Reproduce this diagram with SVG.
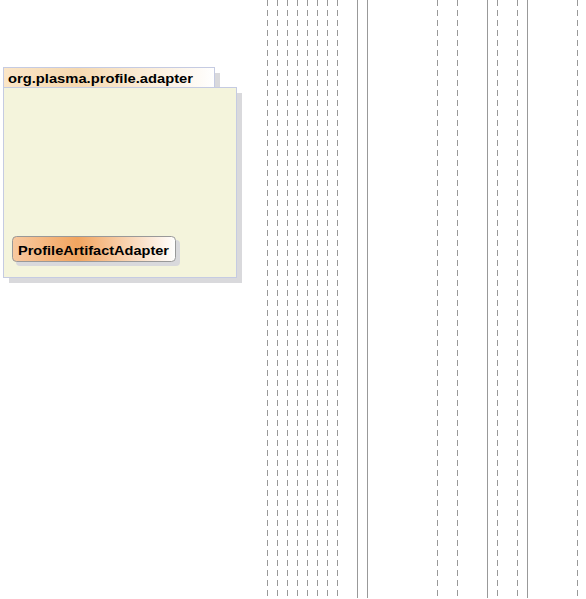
<svg xmlns="http://www.w3.org/2000/svg" width="586" height="599" viewBox="0 0 586 599">
<style>
.sh{fill:#d9d9dc;}
.pkg{stroke:#c5cbe2;stroke-width:1;}
.ln{stroke:#999999;stroke-width:1;fill:none;}
.d{stroke-dasharray:6,4;}
.t{font-family:"Liberation Sans",Arial,sans-serif;font-weight:bold;font-size:13px;fill:#000;}
</style>
<defs>
<linearGradient id="tabg" x1="0" y1="0" x2="1" y2="0">
<stop offset="0" stop-color="#fbe6c8"/>
<stop offset="0.35" stop-color="#f6d9b0"/>
<stop offset="1" stop-color="#ffffff"/>
</linearGradient>
<linearGradient id="clsg" x1="0" y1="0" x2="1" y2="0">
<stop offset="0" stop-color="#f8c9a0"/>
<stop offset="0.4" stop-color="#f2a560"/>
<stop offset="1" stop-color="#ffffff"/>
</linearGradient>
</defs>
<g id="connectors">
<line class="ln d" x1="267.5" y1="0" x2="267.5" y2="598"/>
<line class="ln d" x1="277.5" y1="0" x2="277.5" y2="598"/>
<line class="ln d" x1="287.5" y1="0" x2="287.5" y2="598"/>
<line class="ln d" x1="297.5" y1="0" x2="297.5" y2="598"/>
<line class="ln d" x1="307.5" y1="0" x2="307.5" y2="598"/>
<line class="ln d" x1="317.5" y1="0" x2="317.5" y2="598"/>
<line class="ln d" x1="327.5" y1="0" x2="327.5" y2="598"/>
<line class="ln d" x1="337.5" y1="0" x2="337.5" y2="598"/>
<line class="ln" x1="357.5" y1="0" x2="357.5" y2="598"/>
<line class="ln" x1="367.5" y1="0" x2="367.5" y2="598"/>
<line class="ln d" x1="437.5" y1="0" x2="437.5" y2="598"/>
<line class="ln d" x1="457.5" y1="0" x2="457.5" y2="598"/>
<line class="ln" x1="487.5" y1="0" x2="487.5" y2="598"/>
<line class="ln d" x1="497.5" y1="0" x2="497.5" y2="598"/>
<line class="ln d" x1="517.5" y1="0" x2="517.5" y2="598"/>
<line class="ln" x1="527.5" y1="0" x2="527.5" y2="598"/>
<line class="ln d" x1="577.5" y1="0" x2="577.5" y2="598"/>
</g>
<g id="package-org.plasma.profile.adapter">
<rect class="sh" x="9" y="73" width="211" height="20"/>
<rect class="sh" x="9" y="93" width="233" height="190"/>
<rect class="pkg" x="3.5" y="67.5" width="211" height="20" fill="url(#tabg)"/>
<rect class="pkg" x="3.5" y="87.5" width="233" height="190" fill="#f4f4dc"/>
<text class="t" x="8" y="83" textLength="185" lengthAdjust="spacingAndGlyphs">org.plasma.profile.adapter</text>
</g>
<g id="class-ProfileArtifactAdapter">
<rect class="sh" x="16" y="240" width="164" height="26" rx="4"/>
<rect x="12.5" y="236.5" width="163" height="25" rx="4" fill="url(#clsg)" stroke="#999" stroke-width="1"/>
<text class="t" x="18" y="255" textLength="151" lengthAdjust="spacingAndGlyphs">ProfileArtifactAdapter</text>
</g>
</svg>
